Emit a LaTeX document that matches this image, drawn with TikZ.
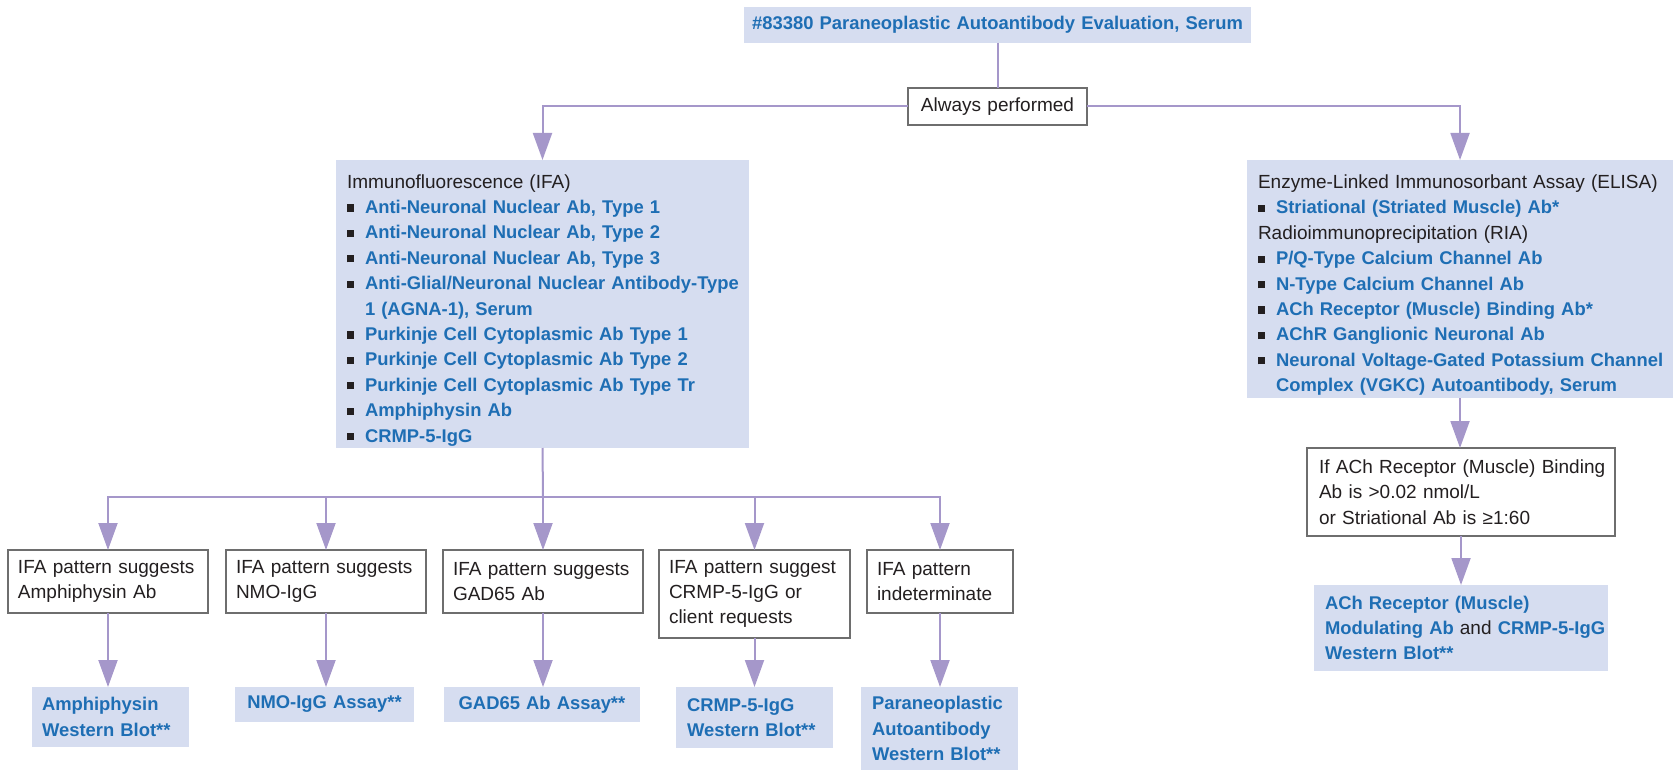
\documentclass[tikz,border=0pt]{standalone}
\usepackage{fontspec}
\setmainfont{Liberation Sans}
\usetikzlibrary{positioning, arrows.meta}
\definecolor{myblue}{RGB}{30,110,180}
\definecolor{myfill}{RGB}{214,221,240}
\definecolor{mypurple}{RGB}{165,151,202}
\definecolor{mygray}{RGB}{110,110,110}
\definecolor{mytext}{RGB}{35,31,32}
\newcommand{\chartfont}{\fontsize{9.5pt}{12.7pt}\selectfont}
\newcommand{\bluefont}{\fontsize{9.2pt}{12.7pt}\selectfont\bfseries}
\newcommand{\sq}{\makebox[9pt][l]{\color{mytext}\rule[0.9pt]{3.6pt}{3.6pt}}}
\newcommand{\hd}[1]{{\color{mytext}\mdseries\chartfont #1}}

\begin{document}
\begin{tikzpicture}[
   x = 0.5pt, y = -0.5pt,
   every node/.style   = {font=\chartfont, text=mytext, outer sep=0pt},
         listNode/.style  = {rectangle, fill=myfill, align=left, anchor=north west, inner ysep=0pt, inner xsep=5.5pt, font=\bluefont, text=myblue},
         checkNode/.style = {rectangle, draw=mygray, line width=1pt, fill=white, align=left, anchor=north west, inner ysep=0pt, inner xsep=5pt},
         assayNode/.style = {rectangle, fill=myfill, align=left, anchor=north west, inner ysep=0pt, inner xsep=5pt, font=\bluefont, text=myblue},
         myline/.style    = {draw=mypurple, line width=1pt},
         myarrow/.style   = {myline, -{Triangle[length=13.5pt, width=9.5pt]}}
]
\useasboundingbox (0,0) rectangle (1673,770);

\node[assayNode, align=center, inner xsep=0pt, text width=253.5pt, minimum height=18pt] (top) at (744,7) {\#83380 Paraneoplastic Autoantibody Evaluation, Serum};
\node[checkNode, align=center, inner xsep=0pt, text width=89.5pt, minimum height=18.5pt] (always) at (908,88) {Always performed};

\node[listNode, text width=195.5pt, minimum height=144pt] (ifa) at (336,160) {\rule{0pt}{13pt}\hd{Immunofluorescence (IFA)}\\
   \sq Anti-Neuronal Nuclear Ab, Type 1\\
   \sq Anti-Neuronal Nuclear Ab, Type 2\\
   \sq Anti-Neuronal Nuclear Ab, Type 3\\
   \sq \mbox{Anti-Glial/Neuronal Nuclear Antibody-Type}\\
   \hspace*{9pt}1 (AGNA-1), Serum\\
   \sq Purkinje Cell Cytoplasmic Ab Type 1\\
   \sq Purkinje Cell Cytoplasmic Ab Type 2\\
   \sq Purkinje Cell Cytoplasmic Ab Type Tr\\
   \sq Amphiphysin Ab\\
   \sq CRMP-5-IgG};
\node[listNode, text width=202pt, minimum height=119pt] (elisa) at (1247,160) {\rule{0pt}{13pt}\mbox{\hd{Enzyme-Linked Immunosorbant Assay (ELISA)}}\\
   \sq Striational (Striated Muscle) Ab*\\
   \hd{Radioimmunoprecipitation (RIA)}\\
   \sq P/Q-Type Calcium Channel Ab\\
   \sq N-Type Calcium Channel Ab\\
   \sq ACh Receptor (Muscle) Binding Ab*\\
   \sq AChR Ganglionic Neuronal Ab\\
   \sq \mbox{Neuronal Voltage-Gated Potassium Channel}\\
   \hspace*{9pt}\mbox{Complex (VGKC) Autoantibody, Serum}};

\draw[myline] (top) -- (always);
\draw[myarrow] (always.west) -| (ifa.north);
\draw[myarrow] (always.east) -| (elisa.north);

    \node[checkNode, text width=90pt, minimum height=31.5pt] (c1) at (8,550) {\mbox{IFA pattern suggests}\\Amphiphysin Ab};
    \node[checkNode, text width=90pt, minimum height=31.5pt, right=9pt of c1.north east, anchor=north west] (c2) {\mbox{IFA pattern suggests}\\NMO-IgG};
    \node[checkNode, text width=90pt, minimum height=31.5pt, right=8.5pt of c2.north east, anchor=north west] (c3) {\mbox{IFA pattern suggests}\\GAD65 Ab};
    \node[checkNode, text width=85.5pt, minimum height=44pt, right=8pt of c3.north east, anchor=north west] (c4) {\mbox{IFA pattern suggest}\\CRMP-5-IgG or\\client requests};
    \node[checkNode, text width=63pt, minimum height=31.5pt, right=8.5pt of c4.north east, anchor=north west] (c5) {IFA pattern\\indeterminate};

    \node[assayNode, text width=68.5pt, minimum height=30pt] (r1) at (32,687) {Amphiphysin\\Western Blot**};
    \node[assayNode, align=center, inner xsep=0pt, text width=89.5pt, minimum height=17.5pt] (r2) at (235,687) {NMO-IgG Assay**};
    \node[assayNode, align=center, inner xsep=0pt, text width=98pt, minimum height=17.5pt] (r3) at (444,687) {GAD65 Ab Assay**};
    \node[assayNode, inner xsep=5.5pt, text width=67.5pt, minimum height=30.5pt] (r4) at (676,687) {CRMP-5-IgG\\Western Blot**};
    \node[assayNode, inner xsep=5.5pt, text width=67.5pt, minimum height=41.5pt] (r5) at (861,687) {Paraneoplastic\\Autoantibody\\Western Blot**};

\coordinate (bus) at (543,497);
\draw[myline] (ifa.south) -- (bus);
\draw[myarrow] (bus) -- (bus |- c3.north);
\foreach \c in {c1,c2,c4,c5}
   \draw[myarrow] (bus) -| (\c.north);
\foreach \c/\r in {c1/r1,c2/r2,c3/r3,c4/r4,c5/r5}
   \draw[myarrow] (\c.south) -- (\c.south |- \r.north);

    \node[checkNode, inner xsep=6pt, text width=142pt, minimum height=44pt] (cond) at (1307,448) {\mbox{If ACh Receptor (Muscle) Binding}\\Ab is >0.02 nmol/L\\or Striational Ab is ≥1:60};
    \node[assayNode, inner xsep=5.5pt, text width=136pt, minimum height=43pt] (r6) at (1314,585) {ACh Receptor (Muscle)\\\mbox{Modulating Ab \hd{and} CRMP-5-IgG}\\Western Blot**};

\draw[myarrow] (elisa.south) -- (elisa.south |- cond.north);
\draw[myarrow] (cond.south) -- (cond.south |- r6.north);

\end{tikzpicture}
\end{document}
